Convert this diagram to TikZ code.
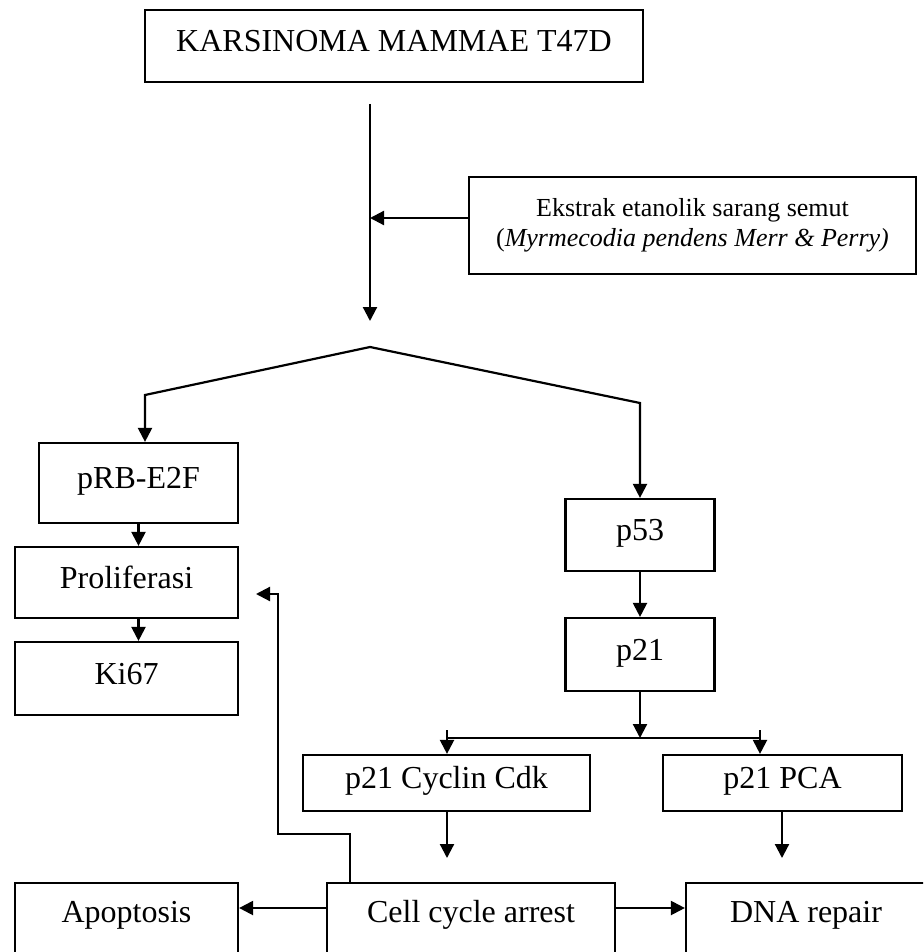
\documentclass[tikz,border=0pt]{standalone}
\usepackage{fontspec}
\setmainfont{Liberation Serif}
\usetikzlibrary{arrows.meta}

\tikzset{
  box/.style={draw,line width=1.1pt,inner sep=0pt,text height=10.6pt,text depth=5pt,
    font=\fontsize{16}{19}\selectfont},
  lowbox/.style={draw,line width=1.1pt,inner sep=0pt,anchor=north,text height=19.85pt,
    text depth=40pt,font=\fontsize{16}{19}\selectfont},
  arr/.style={line width=1.1pt,-{Triangle[length=7pt,width=7pt]}}
}

\begin{document}
\begin{tikzpicture}[x=0.5pt,y=-0.5pt]
  \useasboundingbox (0,0) rectangle (923,952);
  \clip (0,0) rectangle (923,952);
  % boxes
  \node[box,minimum width=249pt,minimum height=36pt] (kars) at (394,46) {KARSINOMA MAMMAE T47D};
  \node[draw,line width=1.1pt,align=center,minimum width=223.5pt,minimum height=48.5pt,
    font=\fontsize{13}{15}\selectfont] (ekst) at (692.5,225.5)
    {Ekstrak etanolik sarang semut\\(\textit{Myrmecodia pendens Merr \& Perry)}};
  \node[box,minimum width=99.5pt,minimum height=40pt] (prb) at (138.5,483) {pRB-E2F};
  \node[box,minimum width=111.5pt,minimum height=35.5pt] (prol) at (126.5,582.5) {Proliferasi};
  \node[box,minimum width=111.5pt,minimum height=36.5pt] (ki) at (126.5,678.5) {Ki67};
  \node[box,minimum width=74.5pt,minimum height=36pt] (p53) at (640,535) {p53};
  \node[box,minimum width=74.5pt,minimum height=36.5pt] (p21) at (640,654.5) {p21};
  \node[box,minimum width=143.5pt,minimum height=28pt] (cyc) at (446.5,783) {p21 Cyclin Cdk};
  \node[box,minimum width=119.5pt,minimum height=28pt] (pca) at (782.5,783) {p21 PCA};
  \node[lowbox,minimum width=111.5pt] (apop) at (126.5,882) {Apoptosis};
  \node[lowbox,minimum width=144pt] (cca) at (471,882) {Cell cycle arrest};
  \node[lowbox,minimum width=120pt] (dna) at (806,882) {DNA repair};

  % bends and free ends
  \coordinate (top) at (370,104);
  \coordinate (join) at (370,218);
  \coordinate (mid) at (370,321);
  \coordinate (peak) at (370,347);
  \coordinate (lc) at (145,395);
  \coordinate (rc) at (640,403);
  \coordinate (fork) at (640,738);
  \coordinate (fl) at (447,738);
  \coordinate (fr) at (760,738);
  \coordinate (cycend) at (447,858);
  \coordinate (pcaend) at (782,858);
  \coordinate (fb) at (278,834);
  \coordinate (fbend) at (256,594);

  % connectors
  \draw[arr] (top) -- (mid);
  \draw[arr] (ekst.west |- join) -- (join);
  \draw[arr] (peak) -- (lc) -- (lc |- prb.north);
  \draw[arr] (peak) -- (rc) -- (rc |- p53.north);
  \draw[arr] (prb.south) -- (prb.south |- prol.north);
  \draw[arr] (prol.south -| prb) -- (ki.north -| prb);
  \draw[arr] (p53.south) -- (p21.north);
  \draw[arr] (p21.south) -- (fork);
  \draw[line width=1.1pt] (fl) -- (fr);
  \draw[arr] ([yshift=4pt]fl) -- (fl |- cyc.north);
  \draw[arr] ([yshift=4pt]fr) -- (fr |- pca.north);
  \draw[arr] (cyc.south -| fl) -- (cycend);
  \draw[arr] (pca.south -| pcaend) -- (pcaend);
  \draw[arr] ([yshift=7.4pt]cca.base west) -- ([yshift=7.4pt]apop.base east);
  \draw[arr] ([yshift=7.4pt]cca.base east) -- ([yshift=7.4pt]dna.base west);
  \draw[arr] ([xshift=12pt]cca.north west) |- (fb) |- (fbend);
\end{tikzpicture}
\end{document}
